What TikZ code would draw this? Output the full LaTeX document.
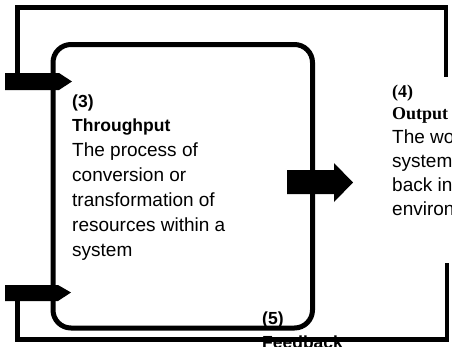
\documentclass[tikz,border=0pt]{standalone}
\usepackage{fontspec}
\setmainfont{Liberation Sans}
\newfontfamily\outfont{Liberation Serif}
\begin{document}
\begin{tikzpicture}[x=1pt,y=-1pt,
  loopline/.style={line width=4.5pt, line join=miter},
  boxstyle/.style={draw, line width=5pt, rounded corners=18pt, inner sep=0pt},
  fatarrow/.style={fill=black},
  body/.style={anchor=base west, inner sep=0pt, font=\fontsize{19}{22}\selectfont},
  head/.style={anchor=base west, inner sep=0pt, font=\fontsize{17.5}{20}\selectfont\bfseries},
  headserif/.style={anchor=base west, inner sep=0pt, font=\fontsize{18}{20}\selectfont\outfont\bfseries}]
\useasboundingbox (0,0) rectangle (452,346);
\clip (0,0) rectangle (452,346);
\fill[white] (0,0) rectangle (452,346);

% throughput box
\node[boxstyle, minimum width=259.5pt, minimum height=283.5pt] (box) at (182.75,186.25) {};

% feedback loop corners
\coordinate (inA) at (17.5,81);
\coordinate (tl) at (17.5,7.5);
\coordinate (tr) at (446,7.5);
\coordinate (outTop) at (446,77);
\coordinate (inB) at (17.5,292);
\coordinate (bl) at (17.5,339.5);
\coordinate (br) at (447,339.5);
\coordinate (outBot) at (447,263);
\draw[loopline] (inA) -- (tl) -- (tr) -- (outTop);
\draw[loopline] (inB) -- (bl) -- (br) -- (outBot);

% arrows
\fill[fatarrow] (5,73) -- (59,73) -- (72,81.5) -- (59,90) -- (5,90) -- cycle;
\fill[fatarrow] (5,285) -- (58,285) -- (71,292.5) -- (58,301) -- (5,301) -- cycle;
\fill[fatarrow] (287,170) -- (334,170) -- (334,163) -- (353,182.5) -- (334,202) -- (334,194) -- (287,194) -- cycle;

% texts (3)
\node[head] (t3n) at (72,107) {(3)};
\node[head] (t3h) at (72,131) {Throughput};
\node[body] (t3a) at (72,156) {The process of};
\node[body] (t3b) at (72,181) {conversion or};
\node[body] (t3c) at (72,206) {transformation of};
\node[body] (t3d) at (72,231) {resources within a};
\node[body] (t3e) at (72,256) {system};

% texts (4)
\node[headserif] (t4n) at (392,97) {(4)};
\node[headserif] (t4h) at (392,119) {Output};
\node[body] (t4a) at (392,143) {The world};
\node[body] (t4b) at (392,167) {system};
\node[body] (t4c) at (392,191) {back into};
\node[body] (t4d) at (392,215) {environment};

% texts (5)
\node[head] (t5n) at (262,324) {(5)};
\node[head] (t5h) at (262,348) {Feedback};
\end{tikzpicture}
\end{document}
